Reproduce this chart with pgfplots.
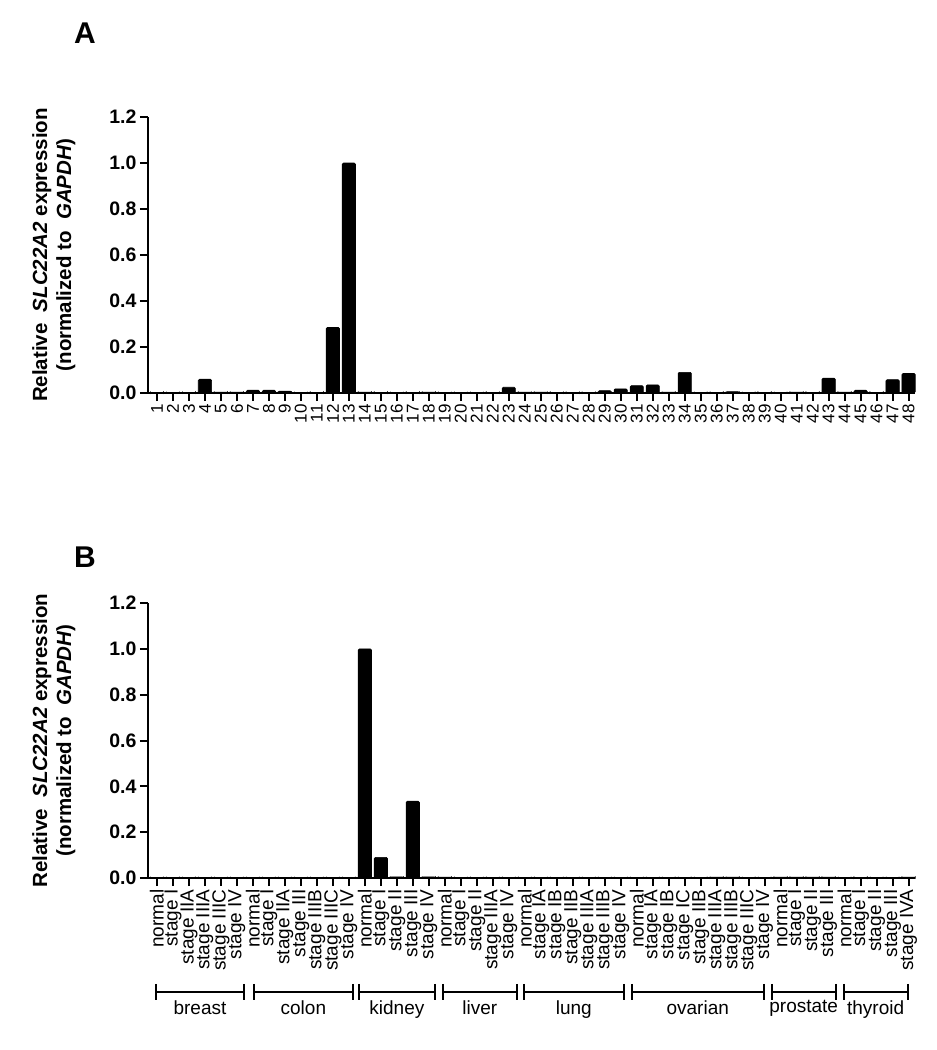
\documentclass[border=0pt]{standalone}
\usepackage{fontspec}
\setmainfont{Liberation Sans}
\usepackage{pgfplots}
\pgfplotsset{compat=1.18}

\pgfplotsset{
  relbars/.style={
    width=767pt, height=276pt, scale only axis,
    anchor=south west,
    axis x line*=bottom, axis y line*=left,
    axis line style={line width=2.4pt, -},
    tick style={line width=2pt, black},
    tick align=outside, major tick length=8pt,
    ymin=0, ymax=1.2, ytick={0,0.2,0.4,0.6,0.8,1.0,1.2},
    xmin=0.44, xmax=48.4,
    xtick={1,...,48},
    ybar, bar width=0.83,
    /pgf/number format/assume math mode=true,
    yticklabel style={font=\bfseries\fontsize{19.5}{19.5}\selectfont,
      /pgf/number format/.cd, fixed, fixed zerofill, precision=1},
    ylabel={Relative\hspace{0.55em}\textit{SLC22A2} expression\\(normalized to\hspace{0.55em}\textit{GAPDH})},
    ylabel style={font=\bfseries\fontsize{20.5}{24}\selectfont, align=center,
      at={(axis description cs:-0.09,0.5)}, anchor=south},
    xticklabel style={rotate=90, anchor=east, font=\fontsize{17}{17}\selectfont},
    clip=false,
  },
  blackbar/.style={fill=black, draw=black, line width=0.6pt, rounded corners=1.2pt},
}

% tissue bracket under panel B: from x=#1 to x=#2, label #3
\newcommand{\grp}[3]{%
  \draw[line width=2pt] (axis cs:#1,-0.4975) -- (axis cs:#2,-0.4975);
  \draw[line width=2pt] (axis cs:#1,-0.462) -- (axis cs:#1,-0.533);
  \draw[line width=2pt] (axis cs:#2,-0.462) -- (axis cs:#2,-0.533);
  \node[font=\fontsize{19}{19}\selectfont, anchor=north] at (axis cs:{(#1+#2)/2},-0.52) {#3};
}

\begin{document}
\begin{tikzpicture}
\path[use as bounding box] (0,0) rectangle (937pt,-1050pt);

\node[font=\bfseries\fontsize{30}{30}\selectfont] at (85pt,-33pt) {A};
\node[font=\bfseries\fontsize{30}{30}\selectfont] at (85pt,-557pt) {B};

% panel A: samples 1-48
\begin{axis}[relbars, at={(148pt,-393pt)}]
\addplot[blackbar] coordinates {
 (1,0.003) (2,0.0) (3,0.003) (4,0.060) (5,0.004) (6,0.004) (7,0.012) (8,0.012)
 (9,0.008) (10,0.0) (11,0.003) (12,0.285) (13,1.0) (14,0.004) (15,0.003) (16,0.0)
 (17,0.003) (18,0.004) (19,0.0) (20,0.0) (21,0.0) (22,0.003) (23,0.025) (24,0.004)
 (25,0.004) (26,0.003) (27,0.003) (28,0.003) (29,0.010) (30,0.018) (31,0.032) (32,0.035)
 (33,0.004) (34,0.090) (35,0.0) (36,0.003) (37,0.006) (38,0.0) (39,0.003) (40,0.0)
 (41,0.004) (42,0.003) (43,0.065) (44,0.004) (45,0.012) (46,0.003) (47,0.058) (48,0.085)
};
\end{axis}

% panel B: tissue and stage
\begin{axis}[relbars, at={(148pt,-878pt)}, height=275pt,
  xticklabel style={font=\fontsize{19}{19}\selectfont},
  xticklabels={normal,stage I,stage IIA,stage IIIA,stage IIIC,stage IV,
    normal,stage I,stage IIA,stage III,stage IIIB,stage IIIC,stage IV,
    normal,stage I,stage II,stage III,stage IV,
    normal,stage I,stage II,stage IIIA,stage IV,
    normal,stage IA,stage IB,stage IIB,stage IIIA,stage IIIB,stage IV,
    normal,stage IA,stage IB,stage IC,stage IIB,stage IIIA,stage IIIB,stage IIIC,stage IV,
    normal,stage I,stage II,stage III,
    normal,stage I,stage II,stage III,stage IVA}]
\addplot[blackbar] coordinates {
 (1,0) (2,0) (3,0) (4,0) (5,0) (6,0)
 (7,0) (8,0) (9,0) (10,0) (11,0) (12,0) (13,0)
 (14,1.0) (15,0.090) (16,0.005) (17,0.335) (18,0.005)
 (19,0.004) (20,0) (21,0) (22,0) (23,0)
 (24,0) (25,0) (26,0) (27,0) (28,0) (29,0) (30,0)
 (31,0) (32,0) (33,0) (34,0) (35,0) (36,0.004) (37,0.004) (38,0) (39,0)
 (40,0.004) (41,0.004) (42,0.004) (43,0.004)
 (44,0) (45,0.003) (46,0) (47,0) (48,0.004)
};
\grp{0.94}{6.44}{breast}
\grp{7.06}{13.25}{colon}
\grp{13.63}{18.38}{kidney}
\grp{18.88}{23.5}{liver}
\grp{23.94}{30.19}{lung}
\grp{30.69}{38.94}{ovarian}
\grp{39.44}{43.44}{prostate}
\grp{43.94}{47.94}{thyroid}
\end{axis}
\end{tikzpicture}
\end{document}
